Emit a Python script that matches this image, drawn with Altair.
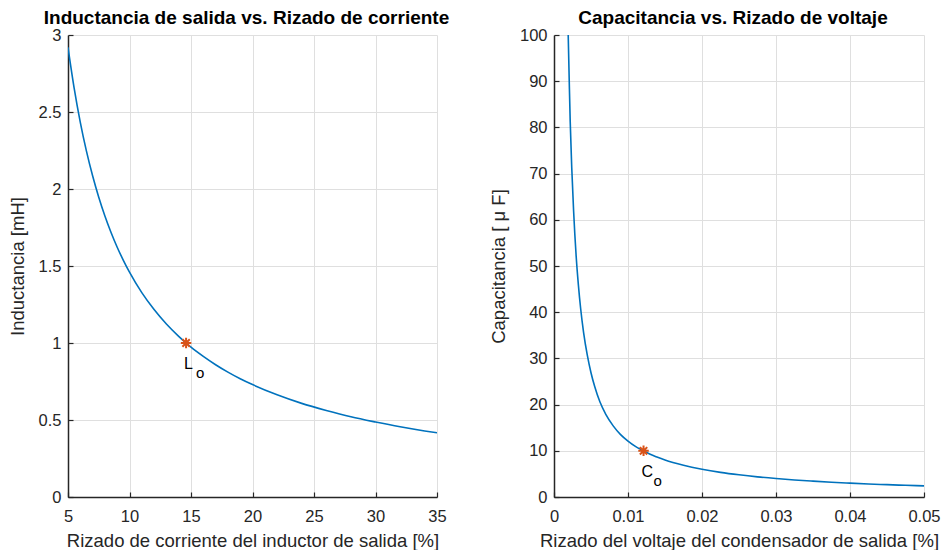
import altair as alt
import pandas as pd

# ---- data ----
ind_ripple = [5, 5.5, 6, 6.5, 7, 7.5, 8, 8.5, 9, 9.5, 10, 11, 12, 13, 14, 14.6, 15,
              16, 17, 18, 19, 20, 22, 24, 26, 28, 30, 32, 34, 35]
ind_mh = [2.92, 2.655, 2.433, 2.246, 2.086, 1.947, 1.825, 1.718, 1.622, 1.537, 1.46,
          1.327, 1.217, 1.123, 1.043, 1.0, 0.973, 0.913, 0.859, 0.811, 0.768, 0.73,
          0.664, 0.608, 0.562, 0.521, 0.487, 0.456, 0.429, 0.417]

cap_ripple = [0.00192, 0.00206, 0.00219, 0.0024, 0.00265, 0.003, 0.0033, 0.0036,
              0.004, 0.0045, 0.005, 0.0055, 0.0062, 0.007, 0.008, 0.009, 0.010, 0.011,
              0.0121, 0.013, 0.014, 0.015, 0.0175, 0.02, 0.0225, 0.025, 0.0275, 0.03,
              0.0325, 0.035, 0.0375, 0.04, 0.0425, 0.045, 0.0475, 0.05]
cap_uf = [100, 90, 81.3, 71.2, 61.9, 52, 45.8, 40.8, 35.6, 30.7, 26.9, 23.9, 20.6, 17.9,
          15.4, 13.5, 12.1, 10.95, 10.0, 9.25, 8.6, 8.0, 6.86, 6.0, 5.33, 4.8, 4.36, 4.0,
          3.69, 3.43, 3.2, 3.0, 2.82, 2.67, 2.53, 2.4]

lo_point = {"x": [14.6], "y": [1.0]}
co_point = {"x": [0.0121], "y": [10.0]}
lo_main, lo_sub = "L", "o"
co_main, co_sub = "C", "o"

left_xticks = [5, 10, 15, 20, 25, 30, 35]
left_yticks = [0, 0.5, 1, 1.5, 2, 2.5, 3]
right_xticks = [0, 0.01, 0.02, 0.03, 0.04, 0.05]
right_yticks = [0, 10, 20, 30, 40, 50, 60, 70, 80, 90, 100]

BLUE = "#0072BD"
ORANGE = "#D95319"
DARK = "#262626"
FONT = "Liberation Sans"
STAR = "M-1,0L1,0M0,-1L0,1M-0.7,-0.7L0.7,0.7M-0.7,0.7L0.7,-0.7"


def panel(xs, ys, pt, main_lbl, sub_lbl, xdom, ydom, xticks, yticks,
          xtitle, ytitle, title, w, h):
    df = pd.DataFrame({"x": xs, "y": ys})
    pdf = pd.DataFrame(pt)
    xs_ = alt.Scale(domain=xdom, nice=False, zero=False)
    ys_ = alt.Scale(domain=ydom, nice=False, zero=False)
    main_x = alt.Axis(values=xticks, format="~r", title=xtitle, tickSize=0,
                      labelPadding=11, titlePadding=7, grid=True, labelFlush=False)
    main_y = alt.Axis(values=yticks, format="~r", title=ytitle, tickSize=0,
                      labelPadding=7, titlePadding=11, grid=True, labelFlush=False)
    line = alt.Chart(df).mark_line(color=BLUE, strokeWidth=1.6, clip=True,
                                   interpolate="monotone").encode(
        x=alt.X("x:Q", scale=xs_, axis=main_x),
        y=alt.Y("y:Q", scale=ys_, axis=main_y),
    )
    marker = alt.Chart(pdf).mark_point(shape=STAR, size=110, filled=False,
                                       color=ORANGE, strokeWidth=2, opacity=1).encode(
        x=alt.X("x:Q", scale=xs_, axis=None),
        y=alt.Y("y:Q", scale=ys_, axis=None),
    )
    t_main = alt.Chart(pdf).mark_text(text=main_lbl, align="left", baseline="middle",
                                      dx=-2, dy=21, fontSize=16, font=FONT,
                                      color="#000000").encode(
        x=alt.X("x:Q", scale=xs_, axis=None),
        y=alt.Y("y:Q", scale=ys_, axis=None),
    )
    t_sub = alt.Chart(pdf).mark_text(text=sub_lbl, align="left", baseline="middle",
                                     dx=10, dy=30, fontSize=15, font=FONT,
                                     color="#000000").encode(
        x=alt.X("x:Q", scale=xs_, axis=None),
        y=alt.Y("y:Q", scale=ys_, axis=None),
    )
    # inward-pointing tick marks (MATLAB style) via opposite-side axes pulled inside
    tick_x = alt.Axis(values=xticks, orient="top", offset=-h, labels=False,
                      domain=False, grid=False, ticks=True, tickSize=5,
                      tickColor=DARK, tickWidth=1.2, title=None)
    tick_y = alt.Axis(values=yticks, orient="right", offset=-w, labels=False,
                      domain=False, grid=False, ticks=True, tickSize=5,
                      tickColor=DARK, tickWidth=1.2, title=None)
    ticks = alt.Chart(df).mark_line(opacity=0).encode(
        x=alt.X("x:Q", scale=xs_, axis=tick_x),
        y=alt.Y("y:Q", scale=ys_, axis=tick_y),
    )
    return alt.layer(line, marker, t_main, t_sub, ticks).resolve_scale(
        x="independent", y="independent"
    ).resolve_axis(
        x="independent", y="independent"
    ).properties(
        width=w, height=h,
        title=alt.TitleParams(title, fontSize=19, fontWeight="bold", font=FONT,
                              color="#000000", offset=-1, anchor="middle",
                              frame="group", dx=-6),
    )


left = panel(ind_ripple, ind_mh, lo_point, lo_main, lo_sub, [5, 35], [0, 3],
             left_xticks, left_yticks,
             "Rizado de corriente del inductor de salida [%]", "Inductancia [mH]",
             "Inductancia de salida vs. Rizado de corriente", 369, 462)
right = panel(cap_ripple, cap_uf, co_point, co_main, co_sub, [0, 0.05], [0, 100],
              right_xticks, right_yticks,
              "Rizado del voltaje del condensador de salida [%]", "Capacitancia [ \u03bc F]",
              "Capacitancia vs. Rizado de voltaje", 370, 462)

chart = alt.hconcat(left, right, spacing=39).properties(
    padding={"left": 0, "top": 1, "right": 0, "bottom": 0}
).configure_view(stroke=None).configure_axis(
    labelFont=FONT, titleFont=FONT, labelFontSize=16.5, titleFontSize=18.5,
    titleFontWeight="normal", labelColor=DARK, titleColor=DARK,
    gridColor="#dfdfdf", gridWidth=1, domainColor=DARK, domainWidth=1.5,
)

chart.save("out.html", embed_options={"renderer": "svg", "actions": False})
